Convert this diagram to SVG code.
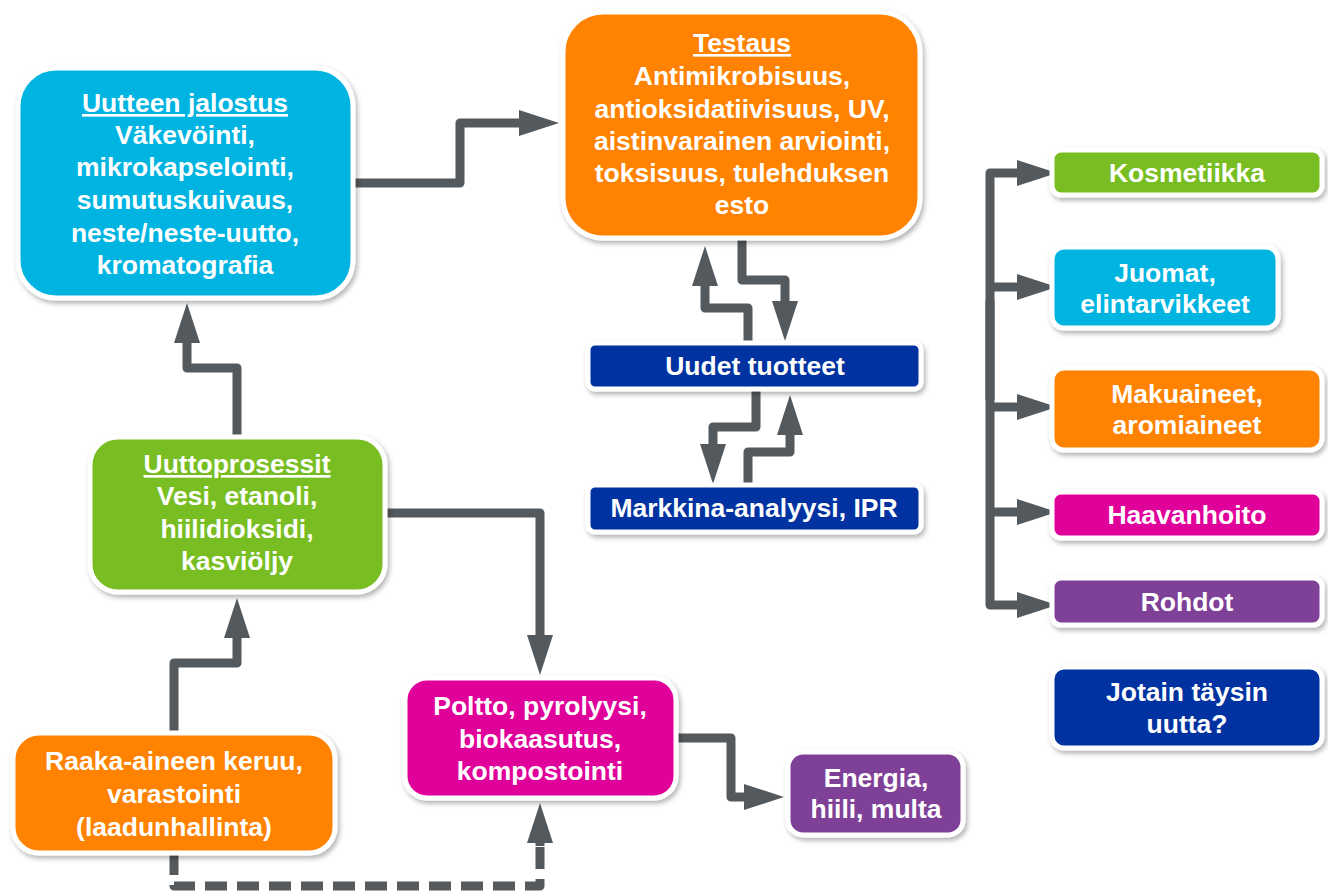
<svg xmlns="http://www.w3.org/2000/svg" width="1328" height="894" viewBox="0 0 1328 894">
<defs>
<filter id="sh" x="-10%" y="-10%" width="125%" height="130%">
<feDropShadow dx="2" dy="3" stdDeviation="2.5" flood-color="#000" flood-opacity="0.3"/>
</filter>
<marker id="ah" markerUnits="userSpaceOnUse" markerWidth="40" markerHeight="26" viewBox="0 0 40 26" refX="1" refY="13" orient="auto">
<path d="M0,0 L40,13 L0,26 z" fill="#54595D"/>
</marker>
<style>
.box{stroke:#fff;stroke-width:5;filter:url(#sh);}
.blue{fill:#00B4E1;}
.orange{fill:#FF8200;}
.green{fill:#78BE21;}
.mag{fill:#E0009A;}
.purp{fill:#7F3F98;}
.navy{fill:#0033A1;}
text{font-family:"Liberation Sans",Arial,sans-serif;font-weight:bold;font-size:26.5px;fill:#fff;text-anchor:middle;}
.u{text-decoration:underline;}
.conn path{fill:none;stroke:#54595D;stroke-width:9;stroke-linejoin:round;}
.conn .a{marker-end:url(#ah);}
.conn .d{stroke-dasharray:22 10;}
</style>
</defs>
<rect width="1328" height="894" fill="#fff"/>

<g class="conn" id="connectors">
<path class="a" d="M353,183 H460 V123 H520"/>
<path class="a" d="M237,437 V368 H187 V342"/>
<path class="a" d="M174,733 V663 H237 V637"/>
<path class="a" d="M385,513 H540 V636"/>
<path class="d" d="M174,853 V886 H540 V842"/>
<path class="a" d="M540,846 V842"/>
<path class="a" d="M676,738 H731 V797 H745"/>
<path class="a" d="M748,343 V308 H705 V285"/>
<path class="a" d="M742,238 V280 H785 V302"/>
<path class="a" d="M756,389 V427 H713 V445"/>
<path class="a" d="M748,485 V452 H790 V434"/>
<path class="a" d="M990,400 V173 H1018"/>
<path class="a" d="M990,300 V605 H1018"/>
<path class="a" d="M990,287 H1018"/>
<path class="a" d="M990,407 H1018"/>
<path class="a" d="M990,512 H1018"/>
</g>

<g id="uutteen">
<rect class="box blue" x="18" y="68" width="335" height="230" rx="38"/>
<text x="185" y="112" class="u">Uutteen jalostus</text>
<text x="185" y="144">Väkevöinti,</text>
<text x="185" y="176">mikrokapselointi,</text>
<text x="185" y="209">sumutuskuivaus,</text>
<text x="185" y="242">neste/neste-uutto,</text>
<text x="185" y="274">kromatografia</text>
</g>

<g id="testaus">
<rect class="box orange" x="563" y="12" width="357" height="226" rx="40"/>
<text x="742" y="52" class="u">Testaus</text>
<text x="742" y="85">Antimikrobisuus,</text>
<text x="742" y="118">antioksidatiivisuus, UV,</text>
<text x="742" y="150">aistinvarainen arviointi,</text>
<text x="742" y="182">toksisuus, tulehduksen</text>
<text x="742" y="214">esto</text>
</g>

<g id="uudet">
<rect class="box navy" x="588" y="343" width="333" height="46" rx="7"/>
<text x="755" y="375">Uudet tuotteet</text>
</g>

<g id="markkina">
<rect class="box navy" x="588" y="485" width="333" height="47" rx="7"/>
<text x="754" y="517">Markkina-analyysi, IPR</text>
</g>

<g id="uuttoprosessit">
<rect class="box green" x="90" y="437" width="295" height="155" rx="28"/>
<text x="237" y="473" class="u">Uuttoprosessit</text>
<text x="237" y="505">Vesi, etanoli,</text>
<text x="237" y="538">hiilidioksidi,</text>
<text x="237" y="570">kasviöljy</text>
</g>

<g id="raaka">
<rect class="box orange" x="13" y="733" width="322" height="120" rx="26"/>
<text x="174" y="770">Raaka-aineen keruu,</text>
<text x="174" y="803">varastointi</text>
<text x="174" y="836">(laadunhallinta)</text>
</g>

<g id="poltto">
<rect class="box mag" x="405" y="678" width="271" height="120" rx="22"/>
<text x="540" y="715">Poltto, pyrolyysi,</text>
<text x="540" y="748">biokaasutus,</text>
<text x="540" y="780">kompostointi</text>
</g>

<g id="energia">
<rect class="box purp" x="788" y="752" width="175" height="83" rx="15"/>
<text x="876" y="787">Energia,</text>
<text x="876" y="818">hiili, multa</text>
</g>

<g id="kosmetiikka">
<rect class="box green" x="1052" y="150" width="270" height="45" rx="9"/>
<text x="1187" y="182">Kosmetiikka</text>
</g>

<g id="juomat">
<rect class="box blue" x="1052" y="247" width="226" height="81" rx="12"/>
<text x="1165" y="282">Juomat,</text>
<text x="1165" y="313">elintarvikkeet</text>
</g>

<g id="makuaineet">
<rect class="box orange" x="1052" y="368" width="270" height="82" rx="12"/>
<text x="1187" y="403">Makuaineet,</text>
<text x="1187" y="434">aromiaineet</text>
</g>

<g id="haavanhoito">
<rect class="box mag" x="1052" y="492" width="270" height="46" rx="9"/>
<text x="1187" y="524">Haavanhoito</text>
</g>

<g id="rohdot">
<rect class="box purp" x="1052" y="578" width="270" height="47" rx="9"/>
<text x="1187" y="611">Rohdot</text>
</g>

<g id="jotain">
<rect class="box navy" x="1052" y="667" width="270" height="81" rx="12"/>
<text x="1187" y="701">Jotain täysin</text>
<text x="1187" y="733">uutta?</text>
</g>
</svg>
